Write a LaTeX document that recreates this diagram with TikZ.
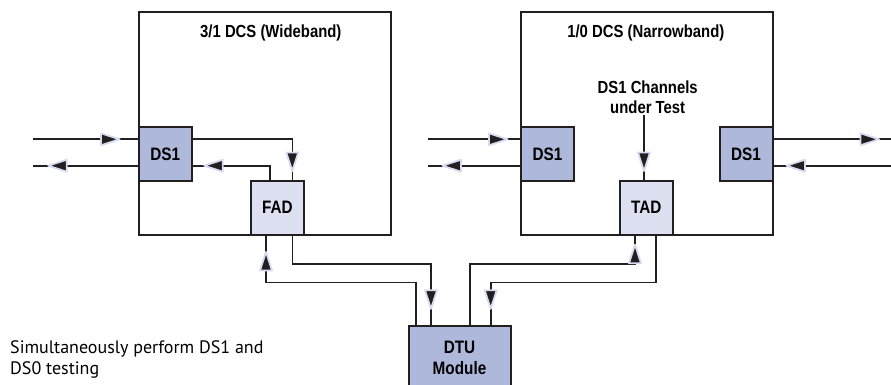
\documentclass[tikz,border=0pt]{standalone}
\usepackage{fontspec}
\setmainfont{PT Sans}
\newfontfamily\boxfont[FakeStretch=0.85]{Liberation Sans Bold}
\usetikzlibrary{arrows.meta,decorations.markings,positioning}

\definecolor{ink}{RGB}{35,31,32}
\definecolor{dsblue}{RGB}{174,184,218}
\definecolor{adpale}{RGB}{220,224,240}
\definecolor{halo}{RGB}{214,219,240}

\tikzset{
  dcs/.style={draw=ink, line width=2pt, minimum width=252pt, minimum height=223pt, inner sep=0pt},
  port/.style={draw=ink, line width=2pt, fill=dsblue, minimum width=53pt, minimum height=54pt,
    inner sep=0pt, font=\boxfont\fontsize{18}{20.6}\selectfont, align=center},
  adapter/.style={port, fill=adpale},
  heading/.style={font=\boxfont\fontsize{17.5}{20}\selectfont, align=center, inner sep=1pt},
  wire/.style={draw=ink, line width=1.6pt},
  % arrowhead sitting on the wire, with a pale rim
  tipat/.style={postaction={decorate}, decoration={markings, mark=at position #1 with
    {\filldraw[draw=halo, fill=ink, line width=1.8pt, line join=round]
      (1.5pt,0pt) -- (-17pt,6pt) -- (-17pt,-6pt) -- cycle;}}},
}

\begin{document}
\begin{tikzpicture}[x=1pt, y=-1pt]
\useasboundingbox (0,0) rectangle (891,385);
\clip (0,0) rectangle (891,385);

% the two cross-connects
\node[dcs] (wide) at (264.5,123.5) {};
\node[dcs] (narrow) at (646.7,123.5) {};
\node[heading] (widetitle) at (270.8,33) {3/1 DCS (Wideband)};
\node[heading] (narrowtitle) at (645.8,33) {1/0 DCS (Narrowband)};

% ports and access devices
\node[port] (wds) at (165.3,154.2) {DS1};
\node[adapter] (fad) at (277.3,207.5) {FAD};
\node[port] (nds) at (547.5,154.2) {DS1};
\node[adapter] (tad) at (646.3,207.5) {TAD};
\node[port] (eds) at (746,154.2) {DS1};
\node[heading] (chan) at (647.7,97.5) {DS1 Channels\\under Test};
\node[port, minimum width=102pt, minimum height=64pt] (dtu) at (459.5,358) {DTU\\Module};

\node[anchor=north west, align=left, inner sep=0pt, font=\fontsize{18}{21.7}\selectfont]
  (note) at (10,340) {Simultaneously perform DS1 and\\DS0 testing};

% line levels
\coordinate (wl1) at (33,139.3);
\coordinate (wl2) at (33,165.7);
\coordinate (nl1) at (428,139.3);
\coordinate (nl2) at (428,165.7);
\coordinate (el1) at (891,139.3);
\coordinate (el2) at (891,165.7);
\coordinate (hi) at (0,264);
\coordinate (lo) at (0,282.3);

% DS1 lines in and out
\draw[wire, tipat=85pt] (wl1) -- (wl1 -| wds.west);
\draw[wire, tipat=88pt] (wds.west |- wl2) -- (wl2);
\draw[wire, tipat=78pt] (nl1) -- (nl1 -| nds.west);
\draw[wire, tipat=76pt] (nds.west |- nl2) -- (nl2);
\draw[wire, tipat=104pt] (eds.east |- el1) -- (el1);
\draw[wire, tipat=103pt] (el2) -- (el2 -| eds.east);

% wideband loop through the FAD
\draw[wire, tipat=-10pt] (wds.east |- wl1) -| ([xshift=15pt]fad.north);
\draw[wire, tipat=-13pt] ([xshift=-7.3pt]fad.north) |- (wds.east |- wl2);

% channels into the TAD
\draw[wire, tipat=-10pt] ([xshift=-2.3pt]chan.south -| tad.north) -- ([xshift=-2.3pt]tad.north);

% access links to the DTU
\draw[wire, tipat=-18pt] ([xshift=-43.8pt]dtu.north) -- ([xshift=-43.8pt]dtu.north |- lo)
  -| ([xshift=-11.3pt]fad.south);
\draw[wire, tipat=-17.7pt] ([xshift=15pt]fad.south) |- ([xshift=-28.5pt]dtu.north |- hi)
  -- ([xshift=-28.5pt]dtu.north);
\draw[wire, tipat=-10.7pt] ([xshift=10.5pt]dtu.north) -- ([xshift=10.5pt]dtu.north |- hi)
  -| ([xshift=-11.3pt]tad.south);
\draw[wire, tipat=-17.7pt] ([xshift=9.7pt]tad.south) |- ([xshift=31.2pt]dtu.north |- lo)
  -- ([xshift=31.2pt]dtu.north);
\end{tikzpicture}
\end{document}
